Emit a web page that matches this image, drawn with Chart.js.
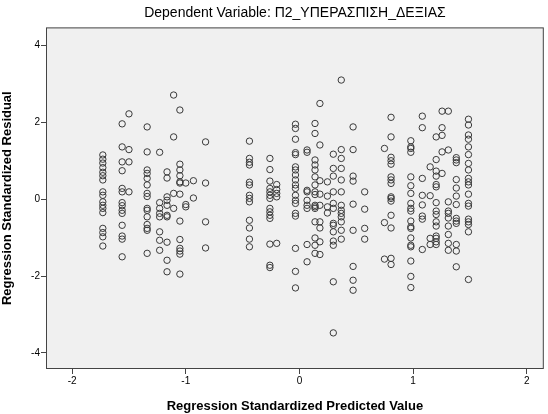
<!DOCTYPE html>
<html>
<head>
<meta charset="utf-8">
<script src="https://cdn.jsdelivr.net/npm/chart.js@4"></script>
<style>
  html, body { margin: 0; padding: 0; background: #fff; }
  #wrap { width: 548px; height: 414px; }
</style>
</head>
<body>
<div id="wrap"><canvas id="residChart"></canvas></div>
<script>
// ---------- Data ----------
const chartTitle = 'Dependent Variable: Π2_ΥΠΕΡΑΣΠΙΣΗ_ΔΕΞΙΑΣ';
const xTitle = 'Regression Standardized Predicted Value';
const yTitle = 'Regression Standardized Residual';
const xTicks = [-2, -1, 0, 1, 2];
const yTicks = [-4, -2, 0, 2, 4];

// predicted values (columns) and the residuals stacked in each column
const predictedLevels = [
    -1.73, -1.56, -1.50, -1.34, -1.23, -1.165, -1.107, -1.052, -1.0, -0.933, -0.826,
    -0.44, -0.26, -0.20, -0.035, 0.067, 0.137, 0.18, 0.246, 0.298, 0.368, 0.472,
    0.574, 0.748, 0.806, 0.98, 1.081, 1.15, 1.203, 1.255, 1.31, 1.38, 1.487
];
const residualsByLevel = [
    [1.15, 1.04, 0.94, 0.82, 0.70, 0.61, 0.50, 0.19, 0.10, -0.07, -0.16, -0.24, -0.35, -0.76, -0.87, -0.98, -1.22],
    [1.96, 1.36, 0.97, 0.74, 0.28, 0.19, -0.09, -0.17, -0.29, -0.37, -0.68, -0.96, -1.04, -1.50],
    [2.22, 1.29, 0.97, 0.19],
    [1.88, 1.23, 0.76, 0.67, 0.54, 0.37, 0.15, 0.07, -0.24, -0.29, -0.46, -0.66, -0.76, -0.81, -1.41],
    [1.22, -0.09, -0.24, -0.37, -0.46, -0.85, -1.07, -1.33],
    [0.71, 0.55, 0.06, -0.03, -0.16, -0.42, -0.46, -1.12, -1.59, -1.89],
    [2.71, 1.62, 0.15, -0.24],
    [2.32, 0.91, 0.76, 0.61, 0.45, 0.42, 0.13, -0.57, -1.05, -1.28, -1.35, -1.43, -1.95],
    [0.42, -0.14, -0.20],
    [0.48, 0.03],
    [1.49, 0.42, -0.59, -1.27],
    [1.51, 1.06, 0.96, 0.89, 0.44, 0.37, 0.10, 0.02, -0.07, -0.55, -0.75, -1.04, -1.24],
    [1.06, 0.77, 0.47, 0.28, 0.19, 0.10, 0.02, -0.24, -0.33, -0.42, -0.50, -1.17, -1.72, -1.78],
    [0.38, 0.25, 0.15, 0.06, -1.15],
    [1.95, 1.84, 1.56, 1.21, 1.16, 0.84, 0.76, 0.63, 0.50, 0.37, 0.28, 0.10, -0.03, -0.11, -0.37, -0.44, -1.28, -1.88, -2.31],
    [1.28, 1.22, 0.23, 0.19, -0.03, -0.16, -0.24, -1.18, -1.63],
    [1.97, 1.71, 1.02, 0.89, 0.76, 0.58, 0.37, 0.19, 0.12, -0.16, -0.20, -0.24, -0.59, -1.01, -1.20, -1.41],
    [2.49, 1.41, 0.48, 0.13, -0.16, -0.59, -0.75, -1.11, -1.44],
    [0.45, 0.08, -0.20, -0.36],
    [1.17, 0.80, 0.60, 0.19, -0.11, -0.24, -0.63, -0.68, -0.85, -1.09, -1.20, -2.15, -3.48],
    [3.10, 1.29, 1.06, 0.80, 0.50, 0.19, -0.16, -0.29, -0.37, -0.46, -0.59, -0.81, -1.04],
    [1.88, 1.29, 0.60, 0.47, -0.13, -0.81, -1.75, -2.11, -2.37],
    [0.19, -0.26, -0.76, -1.04],
    [1.32, -0.61, -1.56],
    [2.13, 1.62, 1.09, 1.00, 0.91, 0.58, 0.50, 0.41, 0.06, 0.02, -0.05, -0.42, -0.75, -1.54, -1.70],
    [1.52, 1.36, 1.32, 1.22, 0.58, 0.35, 0.15, -0.11, -0.24, -0.31, -0.57, -0.72, -0.76, -1.01, -1.20, -1.24, -1.61, -2.01, -2.30],
    [2.16, 1.86, 0.54, 0.10, -0.15, -0.44, -0.52, -1.31],
    [0.84, 0.09, -1.02, -1.18],
    [1.62, 1.03, 0.73, 0.60, 0.38, 0.32, -0.09, -0.31, -0.40, -0.59, -0.70, -0.96, -1.02, -1.11, -1.18],
    [2.29, 1.86, 1.66, 1.23, 0.67],
    [2.29, 1.28, -0.07, -0.31, -0.37, -0.49, -0.70, -0.92, -1.15, -1.33],
    [1.08, 1.02, 0.95, 0.51, 0.29, 0.08, -0.14, -0.50, -0.57, -0.63, -1.18, -1.35, -1.76],
    [2.08, 1.93, 1.67, 1.56, 1.36, 1.16, 0.93, 0.76, 0.54, 0.45, 0.37, 0.13, -0.11, -0.18, -0.52, -0.59, -0.66, -0.85, -2.09]
];

// Build {x, y} points from the columns
const points = [];
predictedLevels.forEach((px, i) => {
    residualsByLevel[i].forEach(r => points.push({ x: px, y: r }));
});

// ---------- Plot frame (grey fill + box) ----------
const framePlugin = {
    id: 'frame',
    beforeDatasetsDraw(chart) {
        const { ctx, chartArea: a } = chart;
        ctx.save();
        ctx.fillStyle = '#f0f0f0';
        ctx.fillRect(a.left, a.top, a.right - a.left, a.bottom - a.top);
        ctx.restore();
    },
    afterDraw(chart) {
        const { ctx, chartArea: a } = chart;
        ctx.save();
        ctx.strokeStyle = '#444';
        ctx.lineWidth = 1;
        ctx.strokeRect(a.left + 0.5, a.top + 0.5, a.right - a.left - 1, a.bottom - a.top - 1);
        ctx.restore();
    }
};

const font = "Arial, 'Liberation Sans', sans-serif";

const ctx = document.getElementById('residChart').getContext('2d');
new Chart(ctx, {
    type: 'scatter',
    data: {
        datasets: [{
            data: points,
            pointRadius: 3.2,
            pointHoverRadius: 3.2,
            pointBorderWidth: 1,
            pointBorderColor: '#3a3a3a',
            pointBackgroundColor: 'rgba(0,0,0,0)'
        }]
    },
    options: {
        responsive: true,
        maintainAspectRatio: false,
        animation: false,
        layout: { padding: { left: 0, right: 1, top: 0, bottom: 0 } },
        plugins: {
            legend: { display: false },
            tooltip: { enabled: false },
            title: {
                display: true,
                text: chartTitle,
                fullSize: false,
                color: '#000',
                font: { family: font, size: 14, weight: 'normal', lineHeight: 1.1 },
                padding: { top: 5, bottom: 7 }
            }
        },
        scales: {
            x: {
                type: 'linear',
                min: -2.23,
                max: 2.15,
                afterBuildTicks: s => { s.ticks = xTicks.map(v => ({ value: v })); },
                afterFit: s => { s.height = 45; },
                grid: { drawOnChartArea: false, drawTicks: true, tickLength: 5, color: '#444' },
                border: { display: false },
                ticks: { color: '#000', padding: 1, font: { family: font, size: 10 } },
                title: {
                    display: true,
                    text: xTitle,
                    color: '#000',
                    padding: { top: 5, bottom: 0 },
                    font: { family: font, size: 13, weight: 'bold' }
                }
            },
            y: {
                type: 'linear',
                min: -4.42,
                max: 4.47,
                afterBuildTicks: s => { s.ticks = yTicks.map(v => ({ value: v })); },
                afterFit: s => { s.width = 46; },
                grid: { drawOnChartArea: false, drawTicks: true, tickLength: 5, color: '#444' },
                border: { display: false },
                ticks: { color: '#000', padding: 1, font: { family: font, size: 10 } },
                title: {
                    display: true,
                    text: yTitle,
                    color: '#000',
                    padding: { top: 0, bottom: 3 },
                    font: { family: font, size: 13, weight: 'bold' }
                }
            }
        }
    },
    plugins: [framePlugin]
});
</script>
</body>
</html>
